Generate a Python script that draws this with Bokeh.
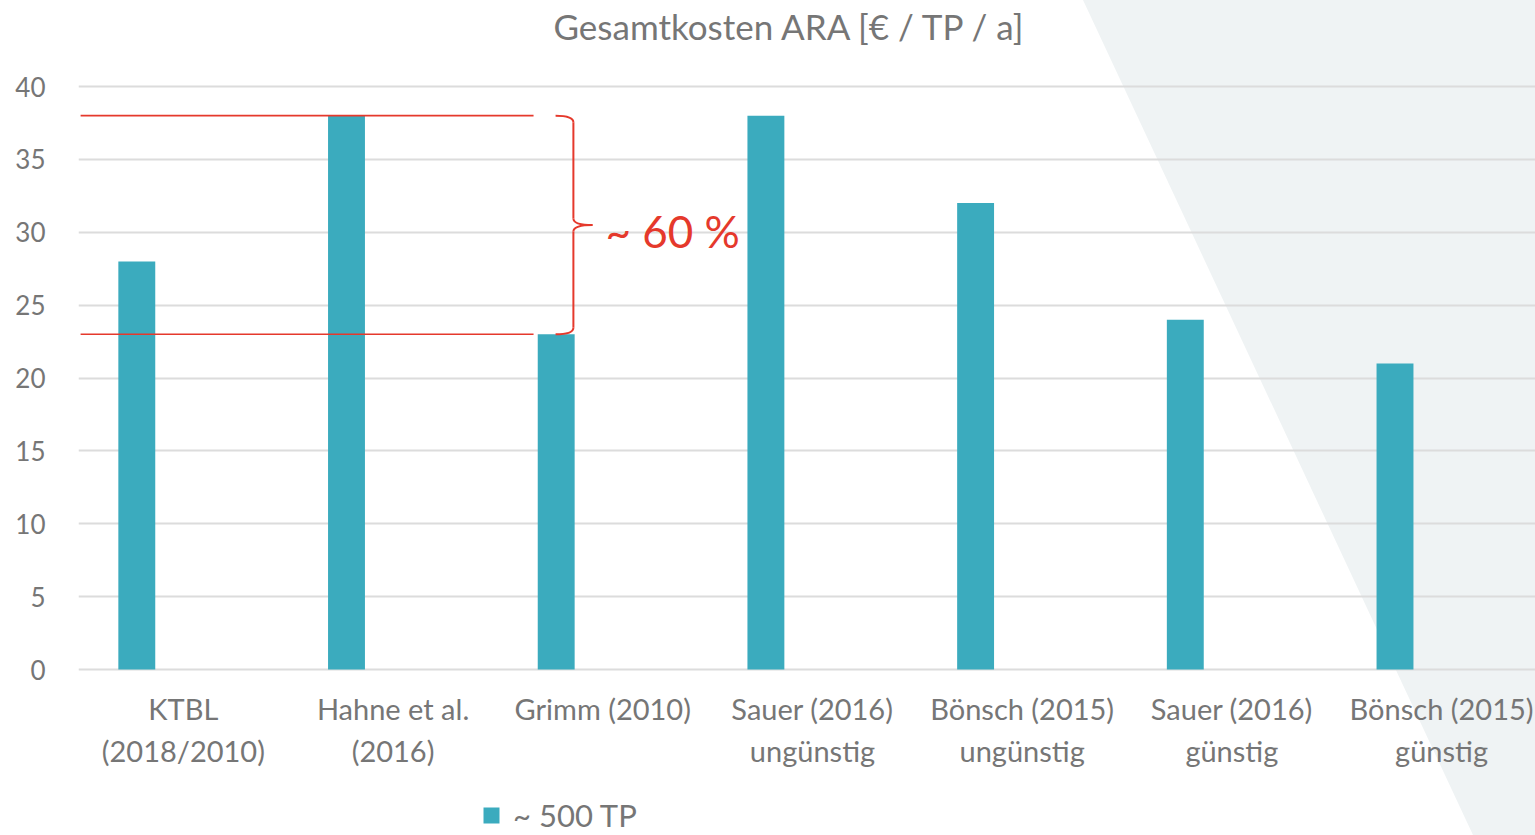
from bokeh.plotting import figure
from bokeh.models import Range1d, FixedTicker, Legend, LegendItem, ColumnDataSource
from bokeh.core.properties import value
from bokeh.embed import file_html
from bokeh.resources import INLINE

# ---- data ----
categories = ["KTBL\n(2018/2010)", "Hahne et al.\n(2016)", "Grimm (2010)",
              "Sauer (2016)\nungünstig", "Bönsch (2015)\nungünstig",
              "Sauer (2016)\ngünstig", "Bönsch (2015)\ngünstig"]
values = [28, 38, 23, 38, 32, 24, 21]
series_name = "~ 500 TP"
y_ticks = [0, 5, 10, 15, 20, 25, 30, 35, 40]
title_text = "Gesamtkosten ARA [€ / TP / a]"
annotation_text = "~ 60 %"

# ---- style ----
FONT = "Lato"
GREY = "#767676"
BAR = "#3BABBE"
RED = "#E5392C"
GRID = "#dcdcdc"

W, H = 1535, 835
idx = list(range(len(categories)))
xpos = [i - 0.222 for i in idx]

p = figure(width=W, height=H, output_backend="svg", toolbar_location=None,
           x_range=Range1d(-0.5, 6.448), y_range=Range1d(-11.389, 42.333),
           min_border_left=78, min_border_right=0, min_border_top=52,
           min_border_bottom=0)

p.border_fill_alpha = 0
p.background_fill_alpha = 0
p.outline_line_color = None

# light diagonal background shape (decoration)
svg_bg = ("data:image/svg+xml;utf8,<svg xmlns='http://www.w3.org/2000/svg' width='%d' height='%d'>"
          "<polygon points='1083,0 %d,0 %d,%d 1473,%d' fill='%%23EFF3F4'/></svg>") % (W, H, W, W, H, H)
p.styles = {"background-image": 'url("%s")' % svg_bg, "background-repeat": "no-repeat"}

src = ColumnDataSource(dict(x=xpos, top=values))
r = p.vbar(x="x", top="top", bottom=0, width=0.176, source=src,
           fill_color=BAR, line_color=None)

# red reference lines at Hahne (max) and Grimm (min)
hi, lo = values[1], values[2]
mid = (hi + lo) / 2
p.segment(x0=[-0.49, -0.49], x1=[1.67, 1.67], y0=[hi, lo], y1=[hi, lo],
          line_color=RED, line_width=1.6)

# curly brace
xl, xv, xt, rr = 1.775, 1.86, 1.951, 0.45
qx0 = [xl, xv, xt, xv]
qy0 = [hi, mid + rr, mid, lo + rr]
qx1 = [xv, xt, xv, xl]
qy1 = [hi - rr, mid, mid - rr, lo]
qcx = [xv, xv, xv, xv]
qcy = [hi, mid, mid, lo]
p.quadratic(x0=qx0, y0=qy0, x1=qx1, y1=qy1, cx=qcx, cy=qcy,
            line_color=RED, line_width=2)
p.segment(x0=[xv, xv], x1=[xv, xv], y0=[hi - rr, mid - rr], y1=[mid + rr, lo + rr],
          line_color=RED, line_width=2)

p.text(x=[2.013], y=[mid], text=[annotation_text], text_color=RED,
       text_font=value(FONT), text_font_size="44px", text_baseline="middle",
       text_align="left", y_offset=6)

# axes
p.xaxis.ticker = FixedTicker(ticks=idx)
p.xaxis.major_label_overrides = {i: c for i, c in zip(idx, categories)}
p.xaxis.fixed_location = -0.274
p.yaxis.ticker = FixedTicker(ticks=y_ticks)
for ax in (p.xaxis, p.yaxis):
    ax.axis_line_color = None
    ax.major_tick_line_color = None
    ax.minor_tick_line_color = None
    ax.major_label_text_color = GREY
    ax.major_label_text_font = FONT
p.xaxis.major_label_text_font_size = "29px"
p.yaxis.major_label_text_font_size = "26px"
p.xaxis.major_label_standoff = 12
p.yaxis.major_label_standoff = 27

p.xgrid.grid_line_color = None
p.ygrid.grid_line_color = GRID
p.ygrid.grid_line_width = 2

# title
p.title.text = title_text
p.title.align = "left"
p.title.offset = 475
p.title.vertical_align = "top"
p.title.text_font = FONT
p.title.text_font_size = "35px"
p.title.text_font_style = "normal"
p.title.text_color = GREY
p.title.standoff = 8

legend = Legend(items=[LegendItem(label=series_name, renderers=[r])],
                location=(403, 1), orientation="horizontal",
                glyph_width=20, glyph_height=20, label_standoff=12,
                padding=0, margin=0, border_line_color=None,
                background_fill_alpha=0,
                label_text_font=FONT, label_text_font_size="31px",
                label_text_color=GREY)
p.add_layout(legend)

open("out.html", "w").write(file_html(p, INLINE))
